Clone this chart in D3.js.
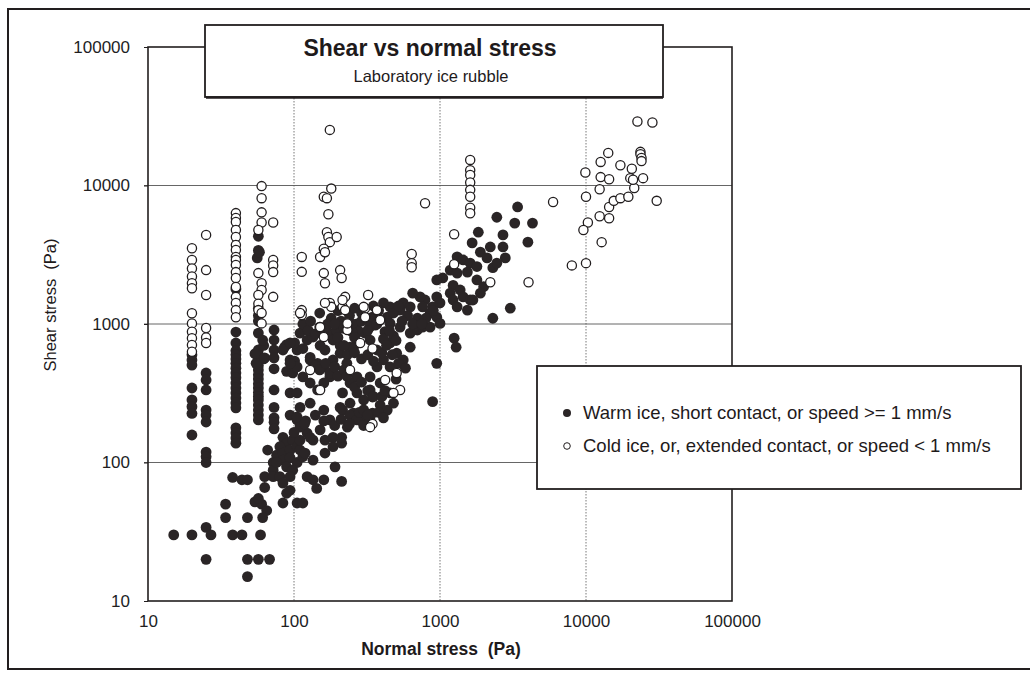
<!DOCTYPE html>
<html>
<head>
<meta charset="utf-8">
<script src="https://cdn.jsdelivr.net/npm/d3@7"></script>
<style>
  body { margin: 0; background: #fff; }
  text { font-family: "Liberation Sans", Arial, sans-serif; fill: #1e1a1b; white-space: pre; }
</style>
</head>
<body>
<svg id="chart" width="1030" height="676"></svg>
<script>
// tick values (both axes log, 10 .. 100000)
var tickValues = [10, 100, 1000, 10000, 100000];

// warm ice, short contact, or speed >= 1 mm/s  [normal stress, shear stress] in Pa
var warmPoints = [
  [15,30],[20,30],[25,34],[27,30],[25,20],[34,50],[34,40],[38,30],[44,30],[48,40],[48,20],[57,20],[68,20],[48,15],[59,30],
  [20,600],[20,550],[20,505],[20,345],[20,283],[20,253],[20,226],[20,158],
  [25,443],[25,394],[25,334],[25,239],[25,220],[25,196],[25,119],[25,110],[25,100],
  [40,1790],[40,875],[40,729],[40,640],[40,600],[40,560],[40,520],[40,480],[40,443],[40,410],[40,375],[40,345],[40,318],[40,292],[40,269],[40,248],[40,178],[40,163],[40,150],[40,138],
  [38,78],[44,75],[48,75],
  [57,4300],[57,3400],[56,3000],[58,3300],[57,1300],[57,1150],[57,1050],[57,860],[57,650],[57,600],[57,550],[57,500],[57,466],[57,430],[57,400],[57,370],[57,345],[57,320],[57,300],[57,283],[57,260],[57,239],[57,220],[57,203],[62,700],[62,560],[54,610],[55,520],[61,766],[63,570],
  [73,905],[73,766],[73,649],[73,570],[73,475],[73,334],[73,250],[73,210],[73,195],[73,175],
  [54,52],[60,50],[65,45],[61,40],[57,55],[63,79],[63,66],[72,100],[72,88],[72,79],[66,123],[84,152],[89,138],[98,145],[80,130],[76,113],[84,117],[94,123],[105,130],[84,104],[94,108],[105,100],[76,100],[89,93],[98,88],[80,79],[94,79],[84,71],[110,123],[115,110],[110,145],[123,163],[135,145],[119,117],[135,104],[163,117],[191,93],[163,145],[185,130],[212,138],[212,152],[123,79],[135,75],[160,75],[143,65],[212,73],[89,60],[94,63],[84,51],[105,51],[115,51],
  [86,680],[89,710],[84,649],[94,550],[89,455],[101,540],[98,443],[94,318],[94,220],[105,203],[105,649],[101,490],[105,318],[105,213],
  [3400,7000],[2450,5900],[3250,5350],[4300,5350],[1830,4600],[2700,4400],[1660,3850],[2210,3600],[2700,3600],[2800,3000],[4000,3900],[1890,3300],[2100,3000],[1310,3050],[1440,2900],[1610,2750],[1790,2600],[2300,2550],[2450,2750],[1175,2450],[1310,2330],[1540,2370],[1790,2080],[1990,1860],[1045,2150],[950,2080],[1230,1900],[1375,1760],[1440,1570],[1610,1490],[1175,1670],[1230,1490],[1310,1330],[1890,1670],[1680,1490],[1540,1260],[3030,1300],[2300,1100],
  [950,1570],[1000,1420],[890,1330],[790,1490],[730,1570],[650,1670],[760,1330],[856,1200],[950,1120],[1000,1010],[560,1420],[533,1260],[625,1330],[455,1330],[410,1420],[370,1260],[435,1120],[345,1120],[389,1070],[455,1010],[533,950],[625,860],[700,905],[760,950],[856,950],[1250,790],[1290,680],[950,520],[890,275],
  [307,860],[332,766],[370,649],[270,730],[242,680],[207,615],[185,550],[160,490],[145,520],[129,575],[115,665],[101,730],[176,860],[196,805],[455,730],[505,615],[560,550],[625,680],[410,550],[455,490],[370,490],[332,415],[389,375],[455,318],[332,334],[300,283],[270,415],[242,375],[215,318],[270,318],[242,268],[207,250],[255,227],[284,203],[310,203],[232,180],[176,415],[160,375],[145,334],[129,375],[115,415],[105,490],[110,250],[129,268],[160,239],[176,203],[151,172],[129,152],[185,152],[94,730],[94,520],
  [215,239],[242,220],[270,203],[300,185],[332,203],[345,227],[345,297],[389,260],[435,239],[480,268],[110,860],[123,766],[135,805],[151,700],[163,649],[185,766],[207,700],[232,600],[255,665],
  [129,550],[140,500],[150,466],[165,520],[176,443],[190,490],[200,420],[220,466],[230,520],
  [270,1000],[300,1150],[330,1050],[360,980],[420,880],[480,820],[500,760],[280,880],[330,950],[410,780],
  [115,1000],[125,900],[140,850],[150,950],[170,1000],[195,900],[210,1050],[230,950],[250,880],[260,800],
  [150,1200],[180,1100],[200,1250],[240,1150],[260,1300],[290,1200],[350,1350],[380,1250],[480,1200],[520,1350],[600,1150],[700,1100],[800,1100],[900,1250],
  [130,1050],[160,920],[190,1000],[220,930],[250,1000],[290,1050],[320,900],[370,1000],[450,900],[550,1050],[650,1000],[750,1000],
  [200,800],[220,700],[260,620],[290,560],[320,600],[350,540],[400,620],[430,700],[470,600],[520,520],[580,480],
  [230,420],[260,350],[290,380],[320,330],[350,300],[400,300],[420,330],[500,400],
  [120,200],[140,220],[160,200],[190,185],[210,205],[240,190],[280,230],[300,240],[320,220],[380,230],[410,210],[110,180],[100,165],[118,190]
];

// cold ice, or, extended contact, or speed < 1 mm/s
var coldPoints = [
  [20,3520],[20,2900],[20,2520],[20,2200],[20,1970],[20,1810],[20,1195],[20,1010],[20,880],[20,790],[20,705],[20,630],
  [25,4400],[25,2450],[25,1620],[25,935],[25,800],[25,730],
  [40,6320],[40,5820],[40,5450],[40,4770],[40,4250],[40,3720],[40,3420],[40,3050],[40,2900],[40,2670],[40,2370],[40,2150],[40,1850],[40,1570],[40,1420],[40,1260],[40,1120],
  [60,9900],[60,8100],[60,6400],[60,5400],[57,4770],[57,2330],[60,1970],[60,1760],[57,1620],[57,1400],[57,1260],[60,1200],[60,1010],
  [72,5400],[72,2900],[72,2650],[72,2370],[72,1570],
  [113,3050],[113,2380],[113,1260],[113,1160],
  [176,25200],[180,9500],[160,8300],[168,8100],[172,6200],[168,4600],[172,4250],[176,3900],[196,4250],[160,3500],[151,3050],[163,3300],[160,2330],[163,1970],[207,2450],[212,2150],[224,1570],[215,1330],[322,1620],[307,1300],[307,1120],[176,1420],[180,1330],[215,1490],[224,1260],[300,1330],[151,950],[160,805],[232,905],[370,1260],
  [129,466],[151,334],[242,466],[284,730],[232,1010],[421,394],[533,334],[345,190],[110,1200],[163,1420],[345,665],[389,1070],[332,180],[505,443],[480,318],
  [640,3200],[640,2750],[640,2570],[790,7450],[1610,15300],[1610,12900],[1610,11900],[1610,10500],[1610,9300],[1610,8300],[1610,6900],[1610,6300],[1250,4450],[1250,2700],[2210,2000],[4040,2000],[5950,7600],[8000,2650],
  [9900,12400],[10000,8300],[10300,5400],[9600,4770],[10000,2750],[12800,3900],[14400,7000],[12400,6000],[14400,5800],[15500,7750],[17200,8100],[19500,8300],[21400,9600],[12400,9400],[12600,11500],[14400,11100],[20100,11300],[21000,11000],[24600,11300],[17200,14000],[20600,13200],[12600,14800],[14200,17200],[23600,17500],[23600,16800],[24000,15800],[24000,15000],[22500,29000],[28500,28500],[30500,7750]
];

var legendLabels = [
  "Warm ice, short contact, or speed >= 1 mm/s",
  "Cold ice, or, extended contact, or speed < 1 mm/s"
];

(function () {
  var ink = "#221e1f";
  var svg = d3.select("#chart");

  // plot area in pixels
  var plotLeft = 148, plotRight = 732, plotTop = 47, plotBottom = 601;

  var x = d3.scaleLog().domain([10, 100000]).range([plotLeft, plotRight]);
  var y = d3.scaleLog().domain([10, 100000]).range([plotBottom, plotTop]);

  // page frame (scanned sheet border)
  svg.append("path")
    .attr("d", "M1040,9 L8,9 L8,669 L1040,669")
    .attr("fill", "none")
    .attr("stroke", ink)
    .attr("stroke-width", 2);

  // gridlines
  svg.selectAll(".vgrid")
    .data(tickValues.slice(1, -1))
    .join("line")
    .attr("class", "vgrid")
    .attr("x1", d => x(d)).attr("x2", d => x(d))
    .attr("y1", plotTop).attr("y2", plotBottom)
    .attr("stroke", "#555")
    .attr("stroke-width", 0.8)
    .attr("stroke-dasharray", "1.5,1.5");

  svg.selectAll(".hgrid")
    .data(tickValues.slice(1, -1))
    .join("line")
    .attr("class", "hgrid")
    .attr("x1", plotLeft - 4).attr("x2", plotRight)
    .attr("y1", d => y(d)).attr("y2", d => y(d))
    .attr("stroke", "#555")
    .attr("stroke-width", 0.9);

  // plot frame
  svg.append("rect")
    .attr("x", plotLeft).attr("y", plotTop)
    .attr("width", plotRight - plotLeft).attr("height", plotBottom - plotTop)
    .attr("fill", "none")
    .attr("stroke", ink)
    .attr("stroke-width", 1.6);

  // axes: tick labels only, the frame draws the lines
  var xAxis = d3.axisBottom(x).tickValues(tickValues).tickFormat(d3.format("d")).tickSize(0).tickPadding(14);
  var yAxis = d3.axisLeft(y).tickValues(tickValues).tickFormat(d3.format("d")).tickSize(4).tickPadding(14);

  svg.append("g")
    .attr("transform", `translate(0,${plotBottom})`)
    .call(xAxis)
    .call(g => g.select(".domain").remove())
    .selectAll("text")
    .style("font-size", "17px")
    .style("fill", ink);

  svg.append("g")
    .attr("transform", `translate(${plotLeft},0)`)
    .call(yAxis)
    .call(g => g.select(".domain").remove())
    .call(g => g.selectAll("line").attr("stroke", ink))
    .selectAll("text")
    .style("font-size", "17px")
    .style("fill", ink);

  // axis titles
  svg.append("text")
    .attr("x", 441).attr("y", 655)
    .attr("text-anchor", "middle")
    .style("font-size", "17.5px")
    .style("font-weight", "bold")
    .text("Normal stress  (Pa)");

  svg.append("text")
    .attr("transform", "translate(56,305) rotate(-90)")
    .attr("text-anchor", "middle")
    .style("font-size", "16.5px")
    .text("Shear stress  (Pa)");

  // data points, filled first, then the open rings on top
  svg.selectAll(".warm")
    .data(warmPoints)
    .join("circle")
    .attr("class", "warm")
    .attr("cx", d => x(d[0]))
    .attr("cy", d => y(d[1]))
    .attr("r", 5.4)
    .attr("fill", "#2a2526");

  svg.selectAll(".cold")
    .data(coldPoints)
    .join("circle")
    .attr("class", "cold")
    .attr("cx", d => x(d[0]))
    .attr("cy", d => y(d[1]))
    .attr("r", 4.6)
    .attr("fill", "#fff")
    .attr("stroke", ink)
    .attr("stroke-width", 1.3);

  // title box, slightly heavier bottom edge like the print
  svg.append("rect")
    .attr("x", 205).attr("y", 25)
    .attr("width", 458).attr("height", 72)
    .attr("fill", "#fff")
    .attr("stroke", ink)
    .attr("stroke-width", 1.8);
  svg.append("line")
    .attr("x1", 206).attr("x2", 663)
    .attr("y1", 97.5).attr("y2", 97.5)
    .attr("stroke", ink)
    .attr("stroke-width", 2.4);

  svg.append("text")
    .attr("x", 430).attr("y", 56)
    .attr("text-anchor", "middle")
    .style("font-size", "23px")
    .style("font-weight", "bold")
    .text("Shear vs normal stress");

  svg.append("text")
    .attr("x", 431).attr("y", 82)
    .attr("text-anchor", "middle")
    .style("font-size", "16.5px")
    .text("Laboratory ice rubble");

  // legend
  svg.append("rect")
    .attr("x", 537).attr("y", 366)
    .attr("width", 484).attr("height", 123)
    .attr("fill", "#fff")
    .attr("stroke", ink)
    .attr("stroke-width", 1.8);

  var legend = svg.selectAll(".legendItem")
    .data(legendLabels)
    .join("g")
    .attr("class", "legendItem")
    .attr("transform", (d, i) => `translate(567,${413 + i * 33})`);

  legend.append("circle")
    .attr("r", (d, i) => i == 0 ? 4 : 3.3)
    .attr("fill", (d, i) => i == 0 ? "#2a2526" : "none")
    .attr("stroke", ink)
    .attr("stroke-width", (d, i) => i == 0 ? 0 : 1);

  legend.append("text")
    .attr("x", 16)
    .attr("dy", "0.35em")
    .style("font-size", "18.5px")
    .text(d => d);
})();
</script>
</body>
</html>
